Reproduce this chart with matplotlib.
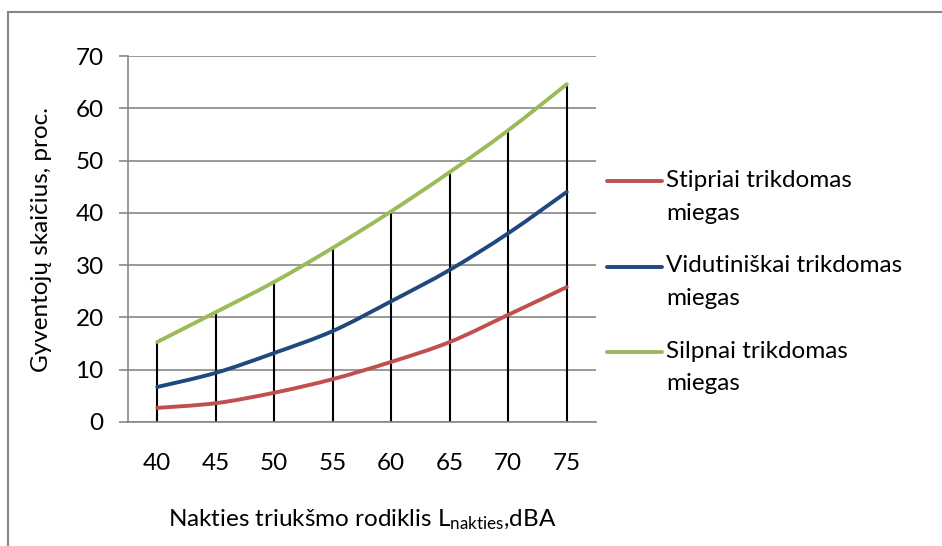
import matplotlib
matplotlib.use("Agg")
import matplotlib.pyplot as plt
from matplotlib.path import Path
from matplotlib.patches import PathPatch, Rectangle
from matplotlib.lines import Line2D
import numpy as np

plt.rcParams['font.family'] = ['Lato', 'DejaVu Sans']
plt.rcParams['mathtext.fontset'] = 'custom'
plt.rcParams['mathtext.rm'] = 'Lato'
plt.rcParams['mathtext.it'] = 'Lato'

categories = ['40', '45', '50', '55', '60', '65', '70', '75']
stipriai = [2.7, 3.6, 5.6, 8.2, 11.5, 15.3, 20.5, 25.8]
vidutiniskai = [6.7, 9.4, 13.2, 17.4, 23.1, 29.1, 36.1, 44.0]
silpnai = [15.3, 21.0, 26.8, 33.3, 40.3, 47.8, 55.8, 64.6]
series_names = [['Stipriai trikdomas', 'miegas'],
                ['Vidutiniškai trikdomas', 'miegas'],
                ['Silpnai trikdomas', 'miegas']]
series_colors = ['#C0504D', '#1F497D', '#9BBB59']
y_ticks = [0, 10, 20, 30, 40, 50, 60, 70]

W, H = 942, 546
fig = plt.figure(figsize=(W / 100, H / 100), dpi=100)
ax = fig.add_axes([128 / W, 1 - 422 / H, (596 - 128) / W, (422 - 56) / H])

grid_col = '#878787'
text_size = 17.5


def smooth_path(xs, ys):
    # Excel-like smoothed line: Catmull-Rom segments as cubic Bezier curves
    pts = np.column_stack([xs, ys]).astype(float)
    verts = [pts[0]]
    codes = [Path.MOVETO]
    n = len(pts)
    for i in range(n - 1):
        p0 = pts[i - 1] if i > 0 else pts[i]
        p1 = pts[i]
        p2 = pts[i + 1]
        p3 = pts[i + 2] if i + 2 < n else pts[i + 1]
        c1 = p1 + (p2 - p0) / 6.0
        c2 = p2 - (p3 - p1) / 6.0
        verts += [c1, c2, p2]
        codes += [Path.CURVE4] * 3
    return Path(verts, codes)


x = np.arange(len(categories))

ax.vlines(x, 0, silpnai, colors='black', lw=1.5, zorder=2)

for vals, col in zip([stipriai, vidutiniskai, silpnai], series_colors):
    patch = PathPatch(smooth_path(x, vals), facecolor='none', edgecolor=col,
                      lw=2.8, capstyle='round', joinstyle='round', zorder=3)
    ax.add_patch(patch)

ax.set_xlim(-0.5, len(categories) - 0.5)
ax.set_ylim(0, 70)
ax.set_yticks(y_ticks)
ax.set_yticklabels([str(v) for v in y_ticks])
ax.set_xticks(x)
ax.set_xticklabels(categories)
ax.yaxis.grid(True, color=grid_col, lw=1.2)
ax.set_axisbelow(True)
for s in ['top', 'right']:
    ax.spines[s].set_visible(False)
ax.spines['left'].set_color(grid_col)
ax.spines['bottom'].set_color(grid_col)
ax.spines['left'].set_linewidth(1.2)
ax.spines['bottom'].set_linewidth(1.2)
ax.tick_params(axis='y', length=6.5, width=1.2, color=grid_col, pad=11, labelsize=text_size)
ax.tick_params(axis='x', length=0, pad=22, labelsize=text_size)

fig.text(42 / W, 1 - 240 / H, 'Gyventojų skaičius, proc.', rotation=90,
         ha='center', va='center', fontsize=text_size)
fig.text(362 / W, 1 - 520 / H, r'Nakties triukšmo rodiklis L$_{\mathrm{nakties}}$,dBA',
         ha='center', va='center', fontsize=text_size)

# legend
for i, (lines, col) in enumerate(zip(series_names, series_colors)):
    yy = 181 + i * 85.5
    fig.add_artist(Line2D([607 / W, 662 / W], [1 - yy / H, 1 - yy / H], color=col,
                          lw=2.8, solid_capstyle='round', transform=fig.transFigure))
    for j, line in enumerate(lines):
        base = yy + 6 + j * 32.5
        fig.text(666 / W, 1 - base / H, line, ha='left', va='baseline', fontsize=text_size)

# chart frame
fig.add_artist(Rectangle((7.5 / W, -0.1), 2, 1 - 12 / H + 0.1, transform=fig.transFigure,
                         fill=False, edgecolor='#868686', lw=1.5))

fig.savefig('out.png', dpi=100)
